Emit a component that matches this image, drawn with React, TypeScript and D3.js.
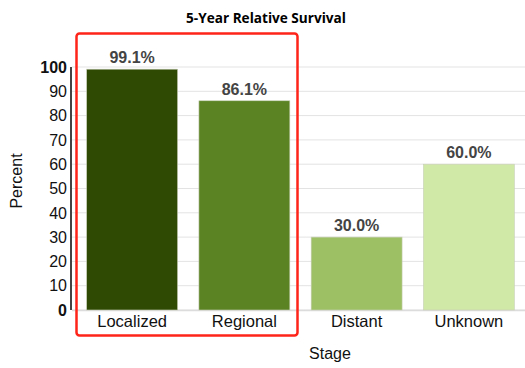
import React from "react";
import * as d3 from "d3";

const categories = ["Localized", "Regional", "Distant", "Unknown"];
const values = [99.1, 86.1, 30.0, 60.0];
const colors = ["#2e4a03", "#5b8323", "#9dc065", "#d1e9a7"];
const yTicks = [0, 10, 20, 30, 40, 50, 60, 70, 80, 90, 100];

export default function App() {
  const W = 525, H = 368;
  const x = d3.scaleBand<string>().domain(categories).range([76, 525]).paddingInner(0.19).paddingOuter(0.095);
  const y = d3.scaleLinear().domain([0, 100]).range([310, 67]);
  const font = "'Liberation Sans', Arial, sans-serif";
  return (
    <svg width={W} height={H} style={{ position: "absolute", left: 0, top: 0 }} fontFamily={font}>
      <rect width={W} height={H} fill="#fff" />
      <text x={266} y={23} textAnchor="middle" fontSize={13.6} fontWeight="bold" fontFamily="'Open Sans', sans-serif">5-Year Relative Survival</text>
      {yTicks.map((t) => (
        <g key={t}>
          <line x1={72} x2={525} y1={y(t)} y2={y(t)} stroke="#e3e3e3" strokeWidth={1} />
          <text x={67} y={y(t)} dy="0.36em" textAnchor="end" fontSize={16} fontWeight={t === 0 || t === 100 ? "bold" : "normal"} fill="#111">{t}</text>
        </g>
      ))}
      <line x1={72} x2={525} y1={310.5} y2={310.5} stroke="#dcdcdc" strokeWidth={1.5} />
      <line x1={71} x2={71} y1={67} y2={310} stroke="#444" strokeWidth={2} />
      {categories.map((c, i) => (
        <g key={c}>
          <rect x={x(c)} y={y(values[i])} width={x.bandwidth()} height={y(0) - y(values[i])} fill={colors[i]} stroke="#c9cfb8" strokeWidth={0.6} />
          <text x={(x(c) as number) + x.bandwidth() / 2} y={y(values[i]) - 6} textAnchor="middle" fontSize={16} fontWeight="bold" fill="#444">{values[i].toFixed(1) + "%"}</text>
          <text x={(x(c) as number) + x.bandwidth() / 2} y={327} textAnchor="middle" fontSize={16.5} fill="#111">{c}</text>
        </g>
      ))}
      <text x={330} y={359} textAnchor="middle" fontSize={16} fill="#111">Stage</text>
      <text transform="translate(22,181) rotate(-90)" textAnchor="middle" fontSize={16} fill="#111">Percent</text>
      <rect x={76.5} y={33.5} width={221} height={302} rx={3} fill="none" stroke="#ff2419" strokeWidth={2.5} />
    </svg>
  );
}
